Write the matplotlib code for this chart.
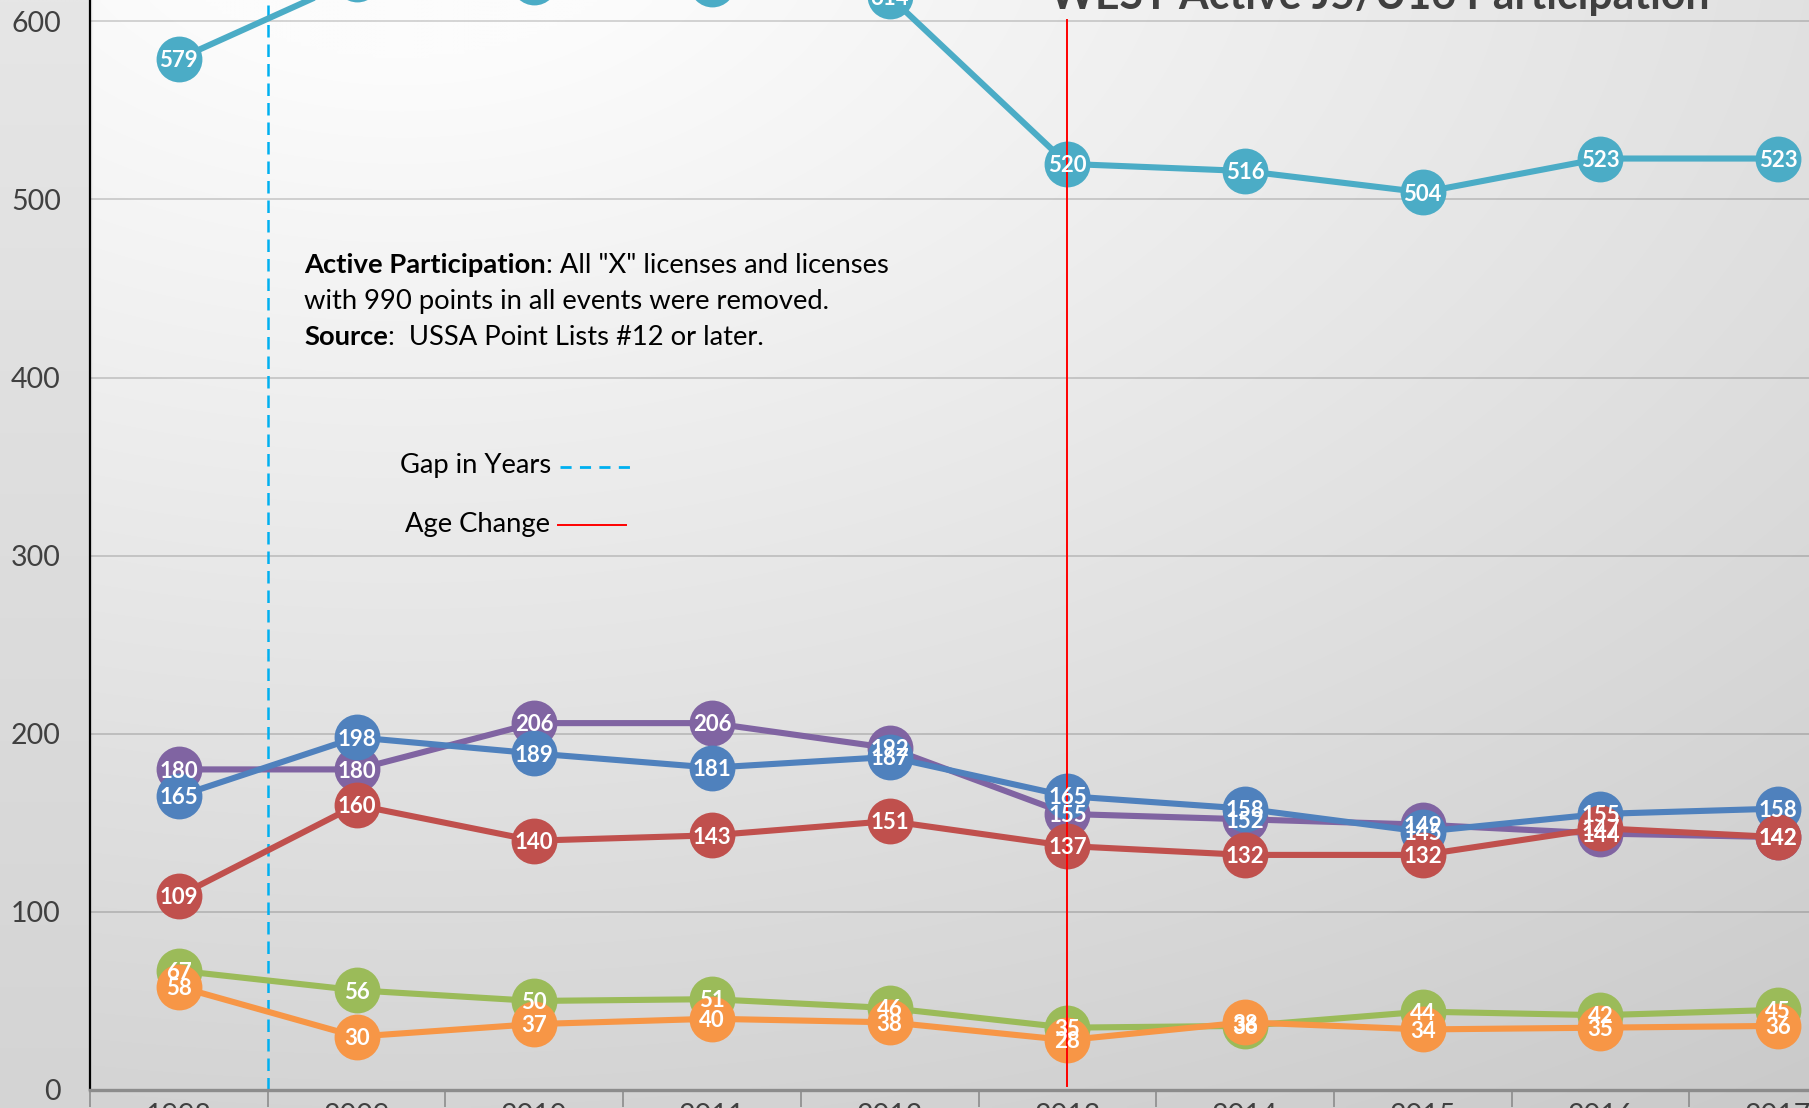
import matplotlib

matplotlib.use("Agg")
import matplotlib.pyplot as plt
import numpy as np

W, H = 1809, 1108

years = ["1998", "2009", "2010", "2011", "2012", "2013", "2014", "2015", "2016", "2017"]
total = [579, 624, 622, 621, 614, 520, 516, 504, 523, 523]
blue = [165, 198, 189, 181, 187, 165, 158, 145, 155, 158]
purple = [180, 180, 206, 206, 192, 155, 152, 149, 144, 142]
red = [109, 160, 140, 143, 151, 137, 132, 132, 147, 142]
green = [67, 56, 50, 51, 46, 35, 36, 44, 42, 45]
orange = [58, 30, 37, 40, 38, 28, 38, 34, 35, 36]

gap_after = 0      # dashed line sits between 1998 and 2009
age_change = "2013"

# drawing order matters for the overlaps (later = on top)
series = [
    (total, "#4bacc6"),
    (purple, "#8064a2"),
    (blue, "#4f81bd"),
    (red, "#c0504d"),
    (green, "#9bbb59"),
    (orange, "#f79646"),
]

plt.rcParams["font.family"] = ["Lato", "DejaVu Sans"]


def fx(x):
    return x / W


def fy(y):
    return 1 - y / H


fig = plt.figure(figsize=(W / 100, H / 100), dpi=100)

# background: light chart area on the left, gradient plot area
bg = fig.add_axes([0, 0, 1, 1])
bg.axis("off")
yy, xx = np.mgrid[0:H:4, 0:W:4].astype(float)
d = np.sqrt(((xx - 400) / 1800) ** 2 + ((yy + 100) / 1100) ** 2)
v = np.clip(258 - 42 * d, 0, 252)
margin = xx < 90
v[margin] = 230 - 18 * yy[margin] / H
img = np.dstack([v / 255] * 3)
bg.imshow(img, extent=[0, 1, 0, 1], aspect="auto", interpolation="bilinear", origin="upper")
bg.set_xlim(0, 1)
bg.set_ylim(0, 1)

px_per_unit = 1.781
ytop = 700
ax = fig.add_axes([fx(90), 18 / H, 1777 / W, ytop * px_per_unit / H])
ax.set_facecolor("none")
ax.set_xlim(-0.5, len(years) - 0.5)
ax.set_ylim(0, ytop)

ax.set_yticks(range(0, ytop + 1, 100))
ax.yaxis.grid(True, color="black", alpha=0.2, lw=1.1)
ax.set_axisbelow(True)
ax.tick_params(axis="y", length=0, pad=21, labelsize=20.5, labelcolor="#404040")

x = np.arange(len(years))
ax.set_xticks(x, years)
ax.set_xticks(np.arange(-0.5, len(years)), minor=True)
ax.tick_params(axis="x", which="major", length=0, pad=9, labelsize=20.5, labelcolor="#404040")
ax.tick_params(axis="x", which="minor", length=12, width=1.2, color="#8c8c8c")

for side in ("top", "right"):
    ax.spines[side].set_visible(False)
ax.spines["left"].set_color("black")
ax.spines["left"].set_linewidth(1.6)
ax.spines["bottom"].set_color("#8c8c8c")
ax.spines["bottom"].set_linewidth(2.4)

# reference lines
ax.plot([gap_after + 0.5] * 2, [0, 640], color="#00b0f0", lw=1.8,
        dashes=(5, 2.8), zorder=2, clip_on=False)
ac = years.index(age_change)
ax.plot([ac, ac], [2, 601], color="#ff0000", lw=1.4, zorder=9)

for i, (vals, col) in enumerate(series):
    ax.plot(x, vals, color=col, lw=4.4, marker="o", ms=33, mew=0,
            zorder=3 + i, clip_on=False)
for vals, col in series:
    for xi, val in zip(x, vals):
        ax.text(xi, val - 1, str(val), ha="center", va="center", color="white",
                fontsize=16, fontweight="bold", zorder=20)

renderer = fig.canvas.get_renderer()


def fit_size(text, target_px, weight="normal", base=20):
    t = fig.text(0, 0, text, fontsize=base, fontweight=weight)
    w = t.get_window_extent(renderer).width
    t.remove()
    return base * target_px / w


def runs(x0, y0, parts, size):
    xcur = fx(x0)
    for txt, weight in parts:
        t = fig.text(xcur, fy(y0), txt, fontsize=size, fontweight=weight,
                     va="baseline", color="black")
        xcur = fig.transFigure.inverted().transform(
            (t.get_window_extent(renderer).x1, 0))[0]


# title (cut by the top edge, as in the source)
title = "WEST Active J5/U16 Participation"
tsize = fit_size(title, 661, weight="bold")
fig.text(fx(1380), fy(9), title, fontsize=tsize, fontweight="bold",
         color="#404040", ha="center", va="baseline")

# note block
psize = fit_size('Active Participation: All "X" licenses and licenses', 581)
runs(304, 273, [("Active Participation", "bold"),
                (': All "X" licenses and licenses', "normal")], psize)
runs(304, 309, [("with 990 points in all events were removed.", "normal")], psize)
runs(304, 345, [("Source", "bold"), (":  USSA Point Lists #12 or later.", "normal")], psize)

# hand-made key for the two reference lines
fig.text(fx(551), fy(473), "Gap in Years", fontsize=psize, va="baseline", ha="right")
fig.add_artist(plt.Line2D([fx(560), fx(630)], [fy(467), fy(467)], color="#00b0f0",
                          lw=2.0, dashes=(4, 3)))
fig.text(fx(550), fy(532), "Age Change", fontsize=psize, va="baseline", ha="right")
fig.add_artist(plt.Line2D([fx(558), fx(626)], [fy(525), fy(525)], color="#ff0000", lw=1.4))

fig.savefig("out.png", dpi=100)
